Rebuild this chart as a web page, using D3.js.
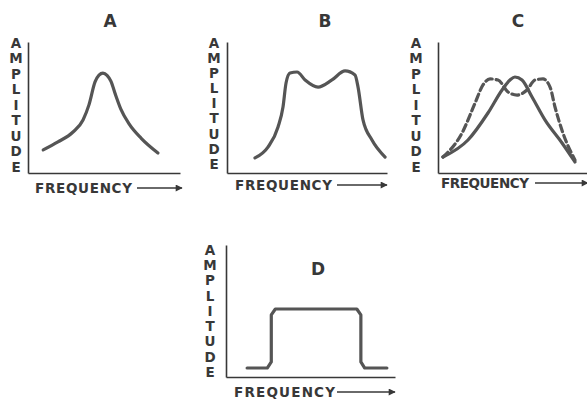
<!DOCTYPE html>
<html>
<head>
<meta charset="utf-8">
<script src="https://cdn.jsdelivr.net/npm/d3@7"></script>
<style>
  html, body { margin: 0; padding: 0; background: #fff; }
  svg { display: block; }
  text { font-family: "DejaVu Sans", "Liberation Sans", Arial, sans-serif; font-weight: bold; fill: #383838; }
</style>
</head>
<body>
<svg id="chart" width="587" height="400"></svg>
<script>
// ---- Data (relative frequency 0-100, relative amplitude 0-100) ----
const panelTitles = ["A", "B", "C", "D"];
const yAxisLabel = "AMPLITUDE";
const xAxisLabel = "FREQUENCY";

const freqA = [10, 19.7, 29.6, 36.2, 40.1, 44.1, 46.7, 49.3, 52, 54.6, 57.5, 61, 66.5, 74.5, 85.5];
const ampA  = [17.6, 23.7, 31.3, 40.5, 52, 69.5, 74.8, 76.3, 74.6, 70, 60, 49, 37.5, 26.5, 15.3];

const freqB = [17.5, 25.6, 31.9, 35, 36.9, 39.4, 43.8, 48.8, 56.9, 65.6, 73.8, 80, 81.9, 85, 90.6, 98.8];
const ampB  = [11.5, 19.8, 35.1, 50.4, 68.7, 76.3, 77.1, 71, 65.6, 71, 77.9, 74.8, 65.6, 40.5, 25.2, 12.2];

const freqCsolid = [3.3, 20, 33.3, 42.7, 48, 51.3, 56, 62.7, 71.3, 82.7, 91.3];
const ampCsolid  = [12.2, 25.2, 45.8, 63.4, 71, 73.3, 71, 58, 40.5, 22.9, 8.4];

const freqCdash = [3.3, 16, 24.7, 30, 34.7, 40, 46.7, 52.7, 59.3, 64.7, 70, 74.7, 78, 83.3, 91.3];
const ampCdash  = [12.2, 30.5, 53.4, 67.2, 71.8, 71, 61.8, 59.5, 63.4, 71, 71.8, 65.6, 50.4, 30.5, 9.9];

const freqD = [12.5, 24.4, 26.8, 26.8, 29.2, 77.4, 79.8, 79.8, 82.1, 95.2];
const ampD  = [6.8, 6.8, 11.4, 47, 51.5, 51.5, 47, 11.4, 6.8, 6.8];

// ---- Layout ----
const smooth = d3.curveMonotoneX;
const panels = [
  { title: panelTitles[0], x0: 28,  x1: 180, y0: 173, y1: 42,  tx: 110, ty: 27,
    lx: 16,  lTop: 43, lBot: 167, fx0: 35,  fx1: 132, fy: 188, ax0: 137, ax1: 182,
    series: [{ f: freqA, a: ampA, dash: null, curve: smooth }] },
  { title: panelTitles[1], x0: 227, x1: 387, y0: 173, y1: 42,  tx: 325, ty: 27,
    lx: 214, lTop: 43, lBot: 164, fx0: 235, fx1: 332, fy: 185, ax0: 337, ax1: 387,
    series: [{ f: freqB, a: ampB, dash: null, curve: smooth }] },
  { title: panelTitles[2], x0: 438, x1: 588, y0: 173, y1: 42,  tx: 518, ty: 27,
    lx: 416, lTop: 43, lBot: 167, fx0: 441, fx1: 529, fy: 183, ax0: 535, ax1: 588,
    series: [{ f: freqCsolid, a: ampCsolid, dash: null, curve: smooth },
             { f: freqCdash,  a: ampCdash,  dash: "7,4", curve: smooth }] },
  { title: panelTitles[3], x0: 226, x1: 395, y0: 377, y1: 245, tx: 318, ty: 275,
    lx: 210, lTop: 250, lBot: 372, fx0: 234, fx1: 335, fy: 392, ax0: 337, ax1: 395,
    series: [{ f: freqD, a: ampD, dash: null, curve: d3.curveLinear }] }
];

const svg = d3.select("#chart");
const defs = svg.append("defs");
defs.append("marker")
  .attr("id", "arrow").attr("viewBox", "0 0 10 10")
  .attr("refX", 9).attr("refY", 5)
  .attr("markerWidth", 10).attr("markerHeight", 7)
  .attr("markerUnits", "userSpaceOnUse")
  .attr("orient", "auto")
  .append("path").attr("d", "M0,0 L10,5 L0,10 Z").attr("fill", "#383838");

panels.forEach(p => {
  const g = svg.append("g");
  const x = d3.scaleLinear().domain([0, 100]).range([p.x0, p.x1]);
  const y = d3.scaleLinear().domain([0, 100]).range([p.y0, p.y1]);

  // axes (plain lines, no ticks)
  const xAxis = d3.axisBottom(x).tickValues([]).tickSizeOuter(0);
  const yAxis = d3.axisLeft(y).tickValues([]).tickSizeOuter(0);
  g.append("g").attr("transform", `translate(0,${p.y0})`).call(xAxis)
    .select(".domain").attr("stroke", "#383838").attr("stroke-width", 1.6);
  g.append("g").attr("transform", `translate(${p.x0},0)`).call(yAxis)
    .select(".domain").attr("stroke", "#383838").attr("stroke-width", 1.6);

  // title
  g.append("text").attr("x", p.tx).attr("y", p.ty)
    .attr("text-anchor", "middle").attr("font-size", 17)
    .text(p.title);

  // vertical AMPLITUDE label
  const letters = yAxisLabel.split("");
  const step = (p.lBot - p.lTop) / (letters.length - 1);
  g.selectAll("text.amp").data(letters).join("text")
    .attr("class", "amp")
    .attr("x", p.lx).attr("y", (d, i) => p.lTop + i * step)
    .attr("dy", "0.36em")
    .attr("text-anchor", "middle").attr("font-size", 13.5)
    .text(d => d);

  // FREQUENCY label
  g.append("text").attr("x", p.fx0).attr("y", p.fy).attr("dy", "0.36em")
    .attr("font-size", 13.5)
    .attr("textLength", p.fx1 - p.fx0).attr("lengthAdjust", "spacing")
    .text(xAxisLabel);

  // arrow
  g.append("line").attr("x1", p.ax0).attr("x2", p.ax1)
    .attr("y1", p.fy).attr("y2", p.fy)
    .attr("stroke", "#383838").attr("stroke-width", 1.6)
    .attr("marker-end", "url(#arrow)");

  // curves
  p.series.forEach(s => {
    const pts = s.f.map((f, i) => [f, s.a[i]]);
    const line = d3.line().x(d => x(d[0])).y(d => y(d[1])).curve(s.curve);
    g.append("path").datum(pts)
      .attr("d", line)
      .attr("fill", "none")
      .attr("stroke", "#555")
      .attr("stroke-width", 3.2)
      .attr("stroke-linejoin", "round")
      .attr("stroke-linecap", "round")
      .attr("stroke-dasharray", s.dash);
  });
});
</script>
</body>
</html>
